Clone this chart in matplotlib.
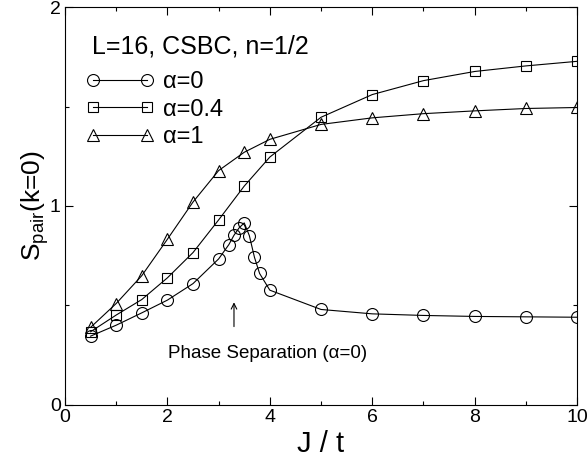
import matplotlib
matplotlib.use("Agg")
import matplotlib.pyplot as plt

plt.rcParams["font.family"] = ["Liberation Sans", "DejaVu Sans"]
plt.rcParams["mathtext.fontset"] = "custom"
plt.rcParams["mathtext.rm"] = "Liberation Sans"

# alpha = 0 (circles)
j_a0 = [0.5, 1, 1.5, 2, 2.5, 3, 3.2, 3.3, 3.4, 3.5, 3.6, 3.7, 3.8, 4, 5, 6, 7, 8, 9, 10]
s_a0 = [0.346, 0.401, 0.463, 0.527, 0.610, 0.734, 0.806, 0.853, 0.890, 0.915,
        0.851, 0.742, 0.661, 0.577, 0.480, 0.458, 0.450, 0.445, 0.443, 0.441]

# alpha = 0.4 (squares)
j_a04 = [0.5, 1, 1.5, 2, 2.5, 3, 3.5, 4, 5, 6, 7, 8, 9, 10]
s_a04 = [0.368, 0.452, 0.530, 0.639, 0.766, 0.930, 1.100, 1.246, 1.446, 1.560,
         1.630, 1.676, 1.704, 1.727]

# alpha = 1 (triangles)
j_a1 = [0.5, 1, 1.5, 2, 2.5, 3, 3.5, 4, 5, 6, 7, 8, 9, 10]
s_a1 = [0.390, 0.510, 0.650, 0.833, 1.020, 1.178, 1.270, 1.335, 1.410, 1.443,
        1.464, 1.478, 1.490, 1.495]

fig = plt.figure(figsize=(5.88, 4.61), dpi=100)
ax = fig.add_axes([0.1105, 0.1215, 0.871, 0.8633])

style = dict(color="black", lw=0.8, mfc="none", mec="black", mew=0.8)
ax.plot(j_a0, s_a0, marker="o", ms=8.6, label="α=0", **style)
ax.plot(j_a04, s_a04, marker="s", ms=7.7, label="α=0.4", **style)
ax.plot(j_a1, s_a1, marker="^", ms=9, label="α=1", **style)

ax.set_xlim(0, 10)
ax.set_ylim(0, 2)
ax.set_xticks([0, 2, 4, 6, 8, 10])
ax.set_xticks([1, 3, 5, 7, 9], minor=True)
ax.set_yticks([0, 1, 2])
ax.set_yticks([0.5, 1.5], minor=True)
ax.tick_params(which="both", direction="in", top=True, right=True,
               labelsize=14, width=0.8)
ax.tick_params(which="major", length=6, pad=3)
ax.tick_params(which="minor", length=3)
for sp in ax.spines.values():
    sp.set_linewidth(0.8)

ax.set_xlabel("J / t", fontsize=21, labelpad=2.5)
ax.set_ylabel(r"S$_{\mathrm{pair}}$(k=0)", fontsize=19, labelpad=-0.5)

ax.text(0.53, 1.80, "L=16, CSBC, n=1/2", fontsize=18, va="center")
ax.legend(loc="upper left", bbox_to_anchor=(0.041, 0.839), frameon=False,
          fontsize=17, handlelength=2.89, numpoints=2, handletextpad=0.38,
          labelspacing=0.235, borderaxespad=0, borderpad=0)

ax.annotate("", xy=(3.3, 0.53), xytext=(3.3, 0.38),
            arrowprops=dict(arrowstyle="->", color="black", lw=0.8))
ax.text(3.96, 0.258, "Phase Separation (α=0)", fontsize=13.5,
        ha="center", va="center")

fig.savefig("out.png", dpi=100)
